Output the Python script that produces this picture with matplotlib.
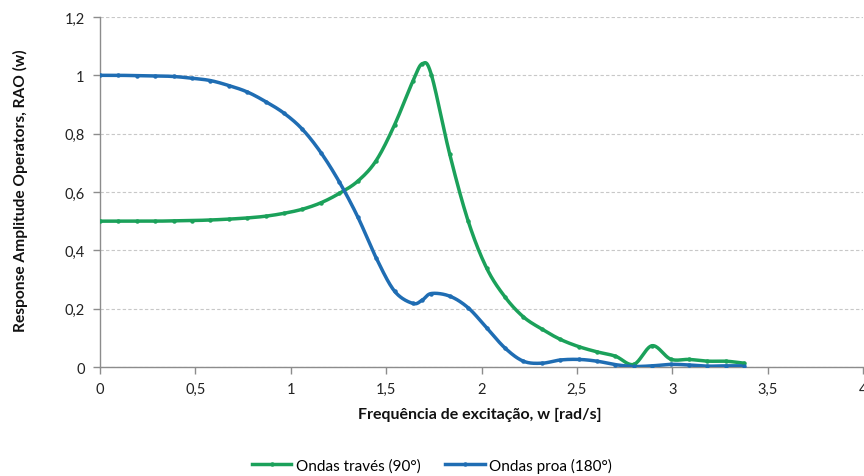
import numpy as np
import matplotlib
matplotlib.use("Agg")
import matplotlib.pyplot as plt
from matplotlib.lines import Line2D
from matplotlib.ticker import FuncFormatter

plt.rcParams['font.family'] = ['Lato', 'DejaVu Sans']

# Excitation frequency [rad/s]
freq = [0.000, 0.096, 0.193, 0.289, 0.386, 0.482, 0.579, 0.675, 0.772, 0.868,
        0.965, 1.061, 1.158, 1.254, 1.351, 1.447, 1.544, 1.640, 1.690, 1.737,
        1.833, 1.930, 2.026, 2.123, 2.219, 2.316, 2.412, 2.509, 2.605, 2.702,
        2.798, 2.894, 2.991, 3.087, 3.184, 3.280, 3.377]

# RAO, beam seas (90°)
rao_traves = [0.500, 0.500, 0.500, 0.500, 0.501, 0.502, 0.504, 0.507, 0.511, 0.517,
              0.527, 0.541, 0.563, 0.595, 0.637, 0.707, 0.830, 0.980, 1.040, 1.002,
              0.730, 0.500, 0.340, 0.240, 0.172, 0.130, 0.095, 0.070, 0.052, 0.037,
              0.009, 0.073, 0.027, 0.026, 0.020, 0.020, 0.013]

# RAO, head seas (180°)
rao_proa = [1.000, 1.000, 0.999, 0.998, 0.996, 0.990, 0.982, 0.965, 0.943, 0.910,
            0.870, 0.815, 0.735, 0.635, 0.515, 0.375, 0.260, 0.218, 0.230, 0.252,
            0.243, 0.203, 0.135, 0.065, 0.020, 0.013, 0.024, 0.026, 0.020, 0.008,
            0.002, 0.004, 0.009, 0.007, 0.003, 0.004, 0.004]

series_labels = ["Ondas través (90°)", "Ondas proa (180°)"]
series_colors = ["#1ba15a", "#1f6db3"]


def smooth_curve(x, y, n=20):
    """Cubic Bezier smoothing through the points (spreadsheet-style smoothed line)."""
    p = np.column_stack([x, y]).astype(float)
    m = len(p)
    out = [p[0]]
    t = np.linspace(0, 1, n + 1)[1:]
    for i in range(m - 1):
        p0 = p[i - 1] if i > 0 else p[i]
        p1, p2 = p[i], p[i + 1]
        p3 = p[i + 2] if i + 2 < m else p[i + 1]
        c1 = p1 + (p2 - p0) / 6.0
        c2 = p2 - (p3 - p1) / 6.0
        for tt in t:
            b = ((1 - tt) ** 3) * p1 + 3 * ((1 - tt) ** 2) * tt * c1 \
                + 3 * (1 - tt) * tt ** 2 * c2 + tt ** 3 * p2
            out.append(b)
    out = np.array(out)
    return out[:, 0], out[:, 1]


fig = plt.figure(figsize=(8.64, 4.77), dpi=100)
ax = fig.add_axes([0.1157, 0.2285, 0.8833, 0.7338])

for ys, col in zip([rao_traves, rao_proa], series_colors):
    sx, sy = smooth_curve(freq, ys)
    ax.plot(sx, sy, color=col, lw=2.5, solid_capstyle='round', zorder=3)
    ax.plot(freq, ys, linestyle='none', marker='o', ms=2.2, color=col,
            markeredgecolor=col, zorder=4)

ax.set_xlim(0, 4)
ax.set_ylim(0, 1.2)
ax.set_xticks(np.arange(0, 4.01, 0.5))
ax.set_yticks(np.arange(0, 1.21, 0.2))

fmt = FuncFormatter(lambda v, pos: ("%g" % round(v, 2)).replace('.', ','))
ax.xaxis.set_major_formatter(fmt)
ax.yaxis.set_major_formatter(fmt)

ax.yaxis.grid(True, color='#c8c8c8', linestyle=(0, (3, 2)), linewidth=0.8)
ax.set_axisbelow(True)
for s in ['top', 'right']:
    ax.spines[s].set_visible(False)
for s in ['left', 'bottom']:
    ax.spines[s].set_color('#8c8c8c')
    ax.spines[s].set_linewidth(1.0)
ax.tick_params(axis='both', colors='#8c8c8c', length=5, width=1.0,
               labelcolor='#222222', labelsize=10.5)
ax.tick_params(axis='x', pad=6)
ax.tick_params(axis='y', pad=6)

ax.set_xlabel("Frequência de excitação, w [rad/s]", fontsize=11.5,
              fontweight='bold', color='#111111')
ax.xaxis.set_label_coords(0.498, -0.115)

fig.text(20 / 864, 1 - 191 / 477, "Response Amplitude Operators, RAO (w)",
         rotation=90, ha='center', va='center', fontsize=11.2,
         fontweight='bold', color='#111111')

handles = [Line2D([0], [0], color=c, lw=2.5, marker='o', ms=2.2) for c in series_colors]
fig.legend(handles, series_labels, loc='center', bbox_to_anchor=(0.5, 0.023),
           ncol=2, frameon=False, fontsize=11, handlelength=2.6,
           handletextpad=0.3, columnspacing=1.6)

fig.savefig("out.png", dpi=100, facecolor='white')
